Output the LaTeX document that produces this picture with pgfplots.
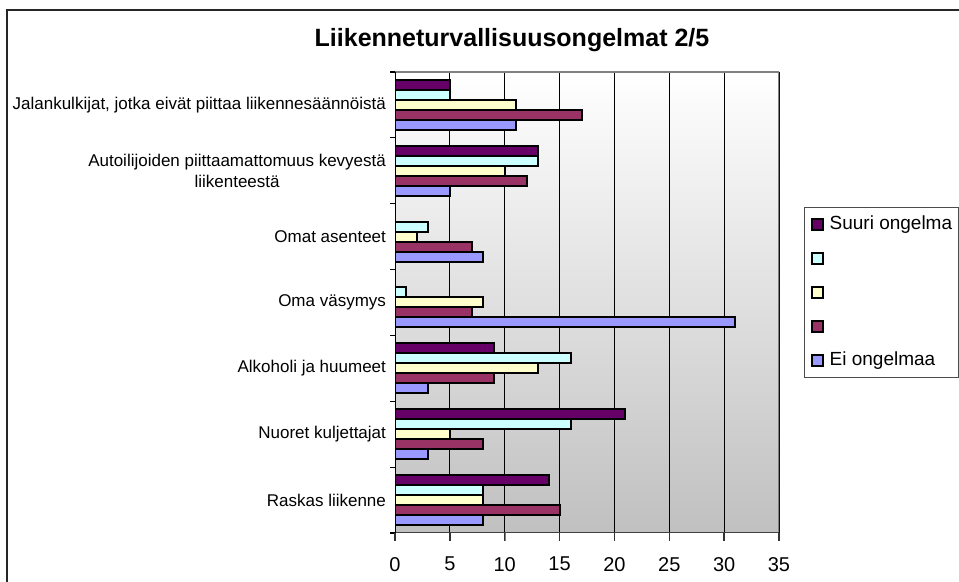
\documentclass[border=0pt]{standalone}
\usepackage{fontspec}
\setmainfont{Liberation Sans}
\usepackage{pgfplots}
\usepackage{pgfplotstable}
\pgfplotsset{compat=1.18}

\definecolor{suuri}{HTML}{660066}
\definecolor{sarja2}{HTML}{CCFFFF}
\definecolor{sarja3}{HTML}{FFFFCC}
\definecolor{sarja4}{HTML}{993366}
\definecolor{eiongelmaa}{HTML}{9999FF}
\definecolor{bgbottom}{HTML}{C0C0C0}

% y: 0 = Raskas liikenne ... 6 = Jalankulkijat
\pgfplotstableread{
y suuri s2 s3 s4 ei
0 14  8  8 15  8
1 21 16  5  8  3
2  9 16 13  9  3
3  0  1  8  7 31
4  0  3  2  7  8
5 13 13 10 12  5
6  5  5 11 17 11
}\ongelmat

\pgfplotsset{
  palkki/.style={fill=#1, draw=black, line width=1pt,
    legend image code/.code={\draw[fill=#1, draw=black, line width=0.8pt] (0pt,-2.75pt) rectangle (5.5pt,2.75pt);}},
}

\begin{document}
\begin{tikzpicture}
\path[use as bounding box] (0,0) rectangle (479.5pt,-291pt);
\draw[line width=1pt, black!85] (3.5pt,-291pt) -- (3.5pt,-5pt) -- (479.5pt,-5pt);
\node[font=\bfseries\fontsize{12.5}{15}\selectfont] at (256pt,-20pt) {Liikenneturvallisuusongelmat 2/5};

\begin{axis}[
  at={(197.5pt,-266.5pt)}, anchor=south west,
  scale only axis, width=192pt, height=230.5pt,
  xbar, bar width=5pt,
  xmin=0, xmax=35, ymin=-0.5, ymax=6.5,
  xtick={0,5,...,35},
  ytick={0,...,6},
  xtick pos=bottom, ytick pos=left,
  axis line style={draw=none},
  yticklabels={Raskas liikenne, Nuoret kuljettajat, Alkoholi ja huumeet, Oma väsymys, Omat asenteet,
    {Autoilijoiden piittaamattomuus kevyestä\\liikenteestä},
    {Jalankulkijat, jotka eivät piittaa liikennesäännöistä}},
  yticklabel style={align=center, font=\fontsize{8.5}{10.5}\selectfont, xshift=3pt},
  xticklabel style={font=\fontsize{10}{12}\selectfont, yshift=-4.5pt},
  /pgf/number format/assume math mode=true,
  tick align=outside, major tick length=4pt,
  y tick style={draw=none},
  extra y ticks={-0.5,0.5,...,6.5}, extra y tick labels={},
  extra y tick style={major tick length=2.5pt, y tick style={draw=black, line width=0.6pt}},
  xmajorgrids, major grid style={black, line width=0.5pt},
  axis background/.style={top color=white, bottom color=bgbottom},
  reverse legend,
  legend style={at={(rel axis cs:1.065,0.707)}, anchor=north west,
    draw=black!70, line width=0.5pt, font=\fontsize{9.5}{11}\selectfont,
    inner xsep=3.3pt, inner ysep=4pt, row sep=8pt, column sep=3pt,
    nodes={inner sep=0pt, text height=7pt, text depth=2pt}},
  legend cell align=left,
]
\addplot[palkki=eiongelmaa, bar shift=-10pt] table[x=ei, y=y] {\ongelmat};
\addlegendentry{Ei ongelmaa}
\addplot[palkki=sarja4, bar shift=-5pt] table[x=s4, y=y] {\ongelmat};
\addlegendentry{}
\addplot[palkki=sarja3, bar shift=0pt] table[x=s3, y=y] {\ongelmat};
\addlegendentry{}
\addplot[palkki=sarja2, bar shift=5pt] table[x=s2, y=y] {\ongelmat};
\addlegendentry{}
\addplot[palkki=suuri, bar shift=10pt] table[x=suuri, y=y] {\ongelmat};
\addlegendentry{Suuri ongelma}

\draw[line width=1pt, black!50] (rel axis cs:0,1) -- (rel axis cs:1,1) -- (rel axis cs:1,0);
\draw[line width=1pt, black!75] (rel axis cs:0,0) -- (rel axis cs:1,0);
\draw[line width=0.8pt, black] (rel axis cs:0,0) -- (rel axis cs:0,1);
\end{axis}

% x-akselin merkit akselin alapuolelle
\foreach \k in {0,...,7} {
  \draw[black!80, line width=0.7pt] ({197.5pt+\k*27.4286pt},-266.5pt) -- ++(0pt,-4pt);
}
\end{tikzpicture}
\end{document}
